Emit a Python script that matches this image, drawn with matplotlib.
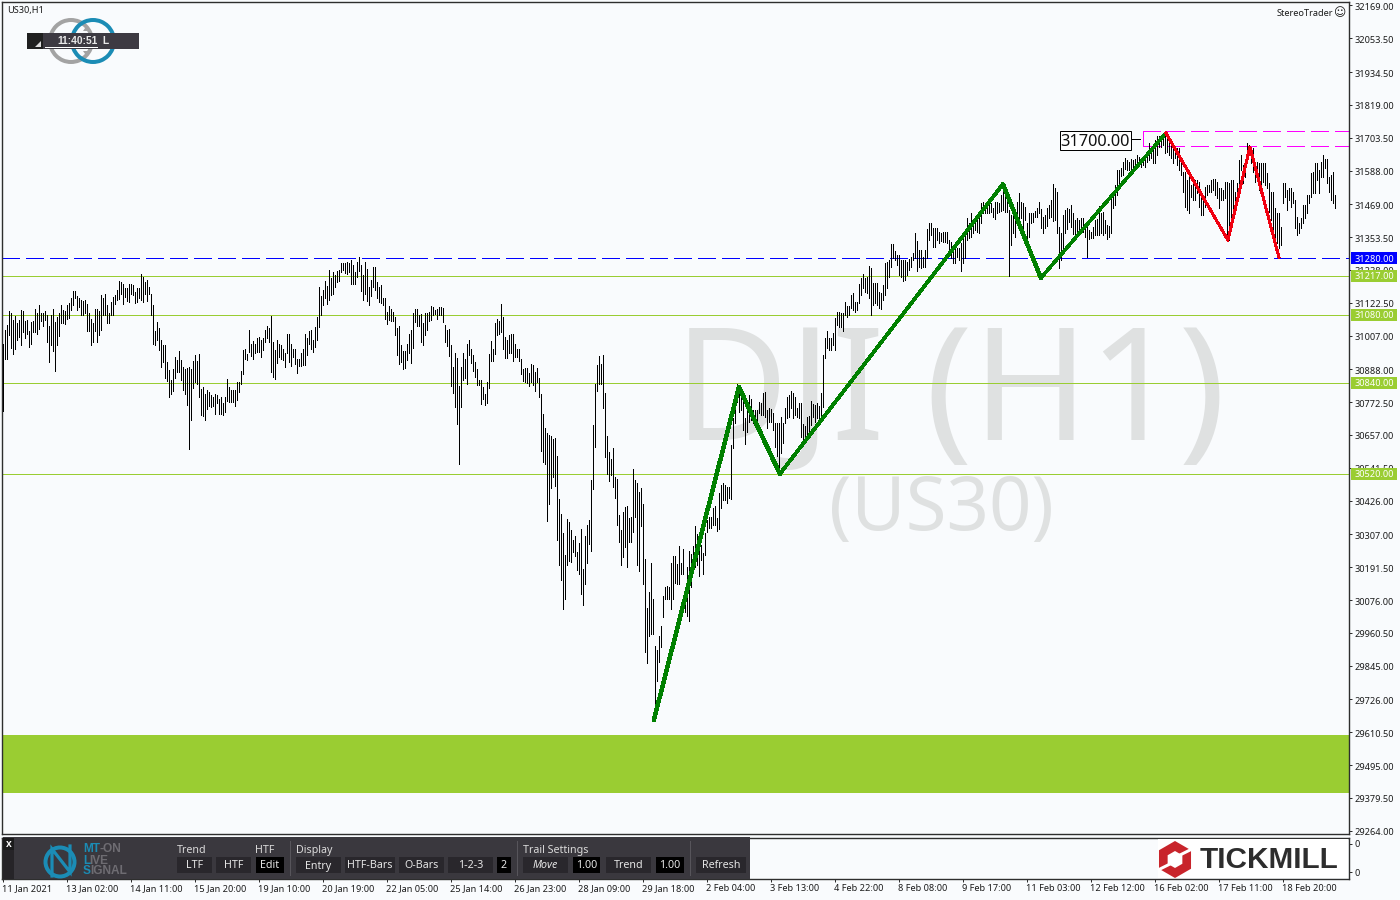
import matplotlib
matplotlib.use("Agg")
import matplotlib.pyplot as plt
from matplotlib.patches import Rectangle, Polygon, Arc, Circle
from matplotlib.transforms import ScaledTranslation
import numpy as np

plt.rcParams['font.family'] = ['Noto Sans', 'DejaVu Sans']
plt.rcParams['lines.scale_dashes'] = False

highs = [
30979,31026,31044,31093,31088,31061,31077,31050,31061,31097,31093,31058,31061,31022,31054,31058,31102,31088,31114,31088,31085,31093,31079,31040,31081,31100,31055,31073,31088,31114,31097,31093,
31114,31122,31138,31163,31163,31146,31140,31132,31129,31132,31118,31085,31067,31050,31100,31100,31093,31149,31138,31152,31114,31085,31126,31144,31149,31169,31199,31194,31187,31173,31173,31187,
31187,31185,31161,31173,31173,31223,31214,31196,31202,31179,31155,31114,31022,31055,31035,30991,30973,30973,30914,30885,30852,30891,30930,30920,30952,30920,30897,30891,30894,30897,30891,30917,
30940,30917,30941,30820,30826,30803,30817,30809,30797,30791,30800,30797,30785,30791,30768,30791,30853,30826,30815,30815,30817,30844,30844,30881,30956,30961,30941,31026,30979,30988,30977,31000,
31003,30991,30997,31026,31040,31035,31077,30985,30956,30993,30979,30975,30961,30944,31014,31014,30977,30961,30958,30926,30926,30947,30959,31014,30997,31022,31028,30991,31038,31073,31179,31147,
31169,31199,31182,31238,31208,31232,31220,31235,31238,31263,31261,31261,31267,31263,
31273,31255,31232,31267,31282,31255,31220,31267,31243,31179,31202,31249,31249,31194,31179,31185,31138,31140,31091,31111,31102,31091,31073,31035,31040,30973,30952,30952,30977,31014,31026,31085,
31102,31100,31079,31082,31052,31085,31088,31091,31111,31108,31097,31100,31108,31106,31105,31044,31026,31030,30973,30897,30947,30928,30829,30897,30947,30926,30977,30991,30958,30938,30914,30891,
30852,30850,30826,30803,30842,30941,30987,30961,31052,31067,31058,31118,31073,31003,30991,31008,31012,31014,30979,30961,30961,30926,30891,30893,30893,30876,30906,30903,30879,30893,30856,30803,
30732,30683,30665,30656,30652,30644,30648,30582,30430,30380,30313,30236,30362,30350,30321,30286,30303,30245,30278,30327,30184,30300,30339,30359,30497,30691,30838,30903,30934,30906,30938,30806,
30652,30597,30571,30612,30509,30501,30374,30321,30386,30403,30406,30365,30368,30536,30497,30489,30456,30471,30415,30219,30048,30106,30207,30080,29913,29900,29951,29983,30092,30121,30125,30121,
30207,30231,30231,30204,30265,30206,30256,30110,30192,30250,30239,30268,30335,30309,30309,
30270,30241,30311,30358,30367,30370,30399,30407,30364,30452,30481,30487,30481,30475,30475,30622,30716,30792,30837,30804,30815,30810,30716,30780,30798,30784,30745,30745,30745,30774,30768,30804,
30807,30745,30751,30747,30733,30698,30698,30698,30722,30698,30751,30792,30798,30812,30804,30792,30751,30771,30771,30695,30689,30719,30724,30777,30766,30763,30771,30759,
30804,30939,30997,31024,30997,30997,31015,31068,31089,31089,31085,31085,31126,31111,31111,31150,31156,31126,31126,31189,31209,31223,31209,31214,31252,31244,31191,31191,31193,31162,31156,31185,
31261,31265,31273,31329,31329,31306,31291,31291,31273,31273,31273,31267,31275,31285,31297,31367,31340,31308,31308,31285,31308,31381,31402,31402,31385,31385,31385,31373,31367,31373,31373,31373,
31343,31338,31314,31314,31314,31314,31332,31355,31367,31422,31402,31437,31408,31420,31416,31426,31473,31478,31467,31461,31467,31473,31455,31478,31478,31473,31502,31531,31510,31484,31449,31431,
31431,31437,31478,31510,31478,31473,31461,31402,31437,31437,31437,31447,31455,31478,
31451,31426,31431,31457,31467,31484,31539,31525,31514,31390,31367,31431,31449,31455,31451,31467,31437,31414,31420,31414,31420,31420,31390,31396,31379,31373,31390,31414,31416,31463,31437,31443,
31414,31396,31393,31502,31514,31537,31590,31590,31596,31619,31631,31625,31619,31627,31625,31627,31643,31637,31625,31631,31627,31649,31684,31660,31678,31695,31710,31710,31713,31719,31721,31713,
31686,31678,31666,31666,31666,31666,31613,31584,31584,31555,31584,31537,31549,31555,31555,31549,31508,31490,31531,31537,31537,31555,31557,31557,31549,31525,31525,31519,31549,31549,31543,31555,
31555,31514,31543,31625,31643,31607,31619,31684,31678,31660,31666,31619,31619,31613,31613,31613,31613,31578,31543,31514,31514,31455,31437,31437,31390,31543,31545,31519,31525,31525,31514,31484,
31426,31402,31420,31467,31467,31502,31502,31578,31582,31613,31613,31590,31619,31643,31627,31627,31566,31572,31584,31502,
]

lows = [
30742,30926,30924,31008,30964,30941,30959,30991,31003,30973,31020,30997,31014,30967,30979,31018,31020,31014,31030,31059,31040,31061,30985,30914,30973,30953,30883,30973,31005,31050,31050,31047,
31067,31070,31097,31114,31138,31097,31106,31079,31079,31085,31024,31022,30973,30985,31022,30983,31008,31026,31079,31079,31052,31052,31079,31079,31118,31132,31135,31155,31118,31144,31128,31126,
31155,31149,31122,31126,31138,31132,31126,31155,31128,31155,31079,30979,30973,30991,30956,30897,30914,30856,30847,30791,30800,30812,30858,30879,30879,30850,30815,30800,30762,30607,30709,30823,
30844,30838,30791,30726,30723,30709,30750,30758,30756,30758,30732,30768,30730,30732,30726,30738,30777,30773,30773,30773,30759,30779,30809,30838,30873,30926,30920,30950,30934,30923,30944,30950,
30950,30932,30956,30985,31000,30985,30879,30862,30853,30909,30932,30926,30920,30897,30944,30914,30900,30932,30906,30876,30899,30899,30903,30903,30938,30977,30961,30950,30967,30993,31038,31079,
31116,31138,31118,31132,31149,31155,31179,31194,31200,31232,31238,31226,31223,31232,
31190,31187,31190,31214,31235,31165,31132,31155,31128,31114,31147,31179,31167,31138,31126,31120,31114,31065,31047,31061,31059,31059,31008,30938,30906,30914,30891,30894,30920,30944,30909,30964,
31055,31040,31041,30985,30973,31008,31026,31059,31061,31079,31082,31065,31079,31079,31053,30985,30971,30934,30829,30805,30756,30697,30556,30756,30850,30856,30838,30938,30909,30883,30862,30832,
30832,30765,30785,30762,30770,30824,30918,30918,30941,31008,31011,31020,30959,30928,30928,30944,30947,30918,30930,30932,30917,30871,30846,30844,30840,30829,30842,30832,30812,30844,30791,30599,
30562,30556,30356,30413,30471,30509,30476,30286,30201,30145,30043,30080,30198,30213,30209,30245,30231,30182,30166,30098,30057,30131,30206,30274,30247,30466,30615,30812,30838,30838,30752,30580,
30518,30494,30515,30474,30435,30339,30282,30201,30227,30262,30194,30280,30280,30315,30368,30198,30180,30336,30133,29892,29853,29951,29957,29957,29698,29792,29857,29910,30016,30080,30078,30078,
30043,30080,30137,30133,30133,30168,30168,30033,30021,30004,30121,30180,30192,30198,30159,
30217,30168,30235,30317,30331,30331,30340,30340,30320,30326,30399,30428,30428,30419,30434,30432,30610,30698,30774,30739,30745,30675,30625,30669,30702,30710,30698,30704,30704,30733,30727,30727,
30722,30683,30704,30704,30675,30616,30583,30516,30593,30628,30698,30716,30722,30751,30716,30727,30722,30716,30651,30642,30642,30651,30657,30692,30722,30704,30716,30698,
30728,30757,30927,30962,30956,30956,30974,30956,31044,31038,31038,31024,31080,31074,31080,31103,31097,31091,31097,31121,31150,31173,31162,31156,31138,31080,31115,31121,31115,31103,31101,31132,
31150,31173,31214,31250,31279,31273,31255,31220,31214,31200,31203,31220,31238,31250,31273,31279,31236,31250,31244,31247,31250,31279,31343,31361,31320,31320,31343,31334,31340,31338,31338,31332,
31297,31279,31261,31261,31285,31273,31236,31264,31279,31343,31349,31355,31367,31379,31373,31369,31402,31437,31437,31437,31440,31443,31426,31416,31437,31443,31446,31449,31443,31443,31217,31326,
31367,31355,31420,31379,31420,31343,31414,31338,31355,31402,31408,31426,31426,31437,
31385,31367,31385,31393,31420,31426,31410,31414,31367,31244,31273,31297,31367,31381,31408,31390,31365,31349,31361,31361,31367,31373,31355,31285,31346,31349,31349,31361,31361,31361,31367,31361,
31367,31346,31355,31367,31455,31467,31502,31543,31569,31572,31592,31590,31590,31590,31596,31596,31607,31607,31602,31607,31602,31619,31625,31631,31613,31613,31643,31672,31672,31678,31649,31654,
31643,31631,31613,31631,31607,31590,31572,31514,31458,31449,31440,31496,31484,31484,31508,31461,31431,31431,31461,31502,31514,31514,31519,31502,31490,31455,31484,31484,31490,31349,31344,31390,
31437,31449,31484,31531,31590,31543,31566,31613,31649,31613,31584,31549,31566,31519,31514,31549,31537,31525,31443,31414,31355,31314,31332,31314,31326,31473,31496,31449,31484,31461,31473,31385,
31361,31367,31385,31402,31420,31437,31473,31496,31508,31508,31555,31508,31566,31566,31596,31543,31514,31484,31473,31457,
]

price_ticks = [32169.0,32053.5,31934.5,31819.0,31703.5,31588.0,31469.0,31353.5,31238.0,31122.5,31007.0,30888.0,30772.5,30657.0,30541.5,30426.0,30307.0,30191.5,30076.0,29960.5,29845.0,29726.0,29610.5,29495.0,29379.5,29264.0]
date_labels = ["11 Jan 2021","13 Jan 02:00","14 Jan 11:00","15 Jan 20:00","19 Jan 10:00","20 Jan 19:00","22 Jan 05:00","25 Jan 14:00","26 Jan 23:00","28 Jan 09:00","29 Jan 18:00","2 Feb 04:00","3 Feb 13:00","4 Feb 22:00","8 Feb 08:00","9 Feb 17:00","11 Feb 03:00","12 Feb 12:00","16 Feb 02:00","17 Feb 11:00","18 Feb 20:00"]
date_step = 32

green_levels = [31217, 31080, 30840, 30520]
blue_level = 31280
zone_top, zone_bottom = 31727, 31674
zone_start = 570
demand_top, demand_bottom = 29601, 29397
green_idx = [325.3, 367.8, 388.3, 499.8, 518.8, 581.3]
green_px = [29654, 30826, 30520, 31540, 31210, 31720]
green_w = [3.4, 3.4, 2.7, 3.3, 2.5]
red_idx = [581.3, 612.3, 623.3, 637.8]
red_px = [31720, 31343, 31671, 31283]

W, H = 1400, 900
BG = '#F9FBFD'
FRAME = '#2E2E2E'
YG = '#9ACD32'
px = 0.72

fig = plt.figure(figsize=(14, 9), dpi=100, facecolor=BG)

def axes_px(x0, y0, x1, y1, **kw):
    return fig.add_axes([x0/W, 1-y1/H, (x1-x0)/W, (y1-y0)/H], **kw)

XLIM = (-0.65, 672.85)
ax = axes_px(2, 2, 1349, 834, facecolor=BG)
ax.set_xlim(*XLIM)
ax.set_ylim(31280-576*3.52, 31280+256*3.52)

ov = fig.add_axes([0, 0, 1, 1], zorder=10)
ov.set_xlim(0, W); ov.set_ylim(H, 0); ov.axis('off'); ov.patch.set_alpha(0)

# watermark
WM = '#DFE1E1'
ax.text(674, 440, "DJI (H1)", transform=ov.transData, fontsize=113, color=WM, va='baseline', ha='left', zorder=0, clip_on=False, family='Noto Sans')
ax.text(829, 530, "(US30)", transform=ov.transData, fontsize=53.5, color=WM, va='baseline', ha='left', zorder=0, clip_on=False, family='Noto Sans')

ax.axhspan(demand_bottom, demand_top, color=YG, lw=0, zorder=1)

for lv in green_levels:
    ax.axhline(lv, color=YG, lw=1*px, zorder=2, antialiased=False)
ax.axhline(blue_level, color='#0000FF', lw=1*px, ls=(0, (18*px, 6*px)), zorder=2, antialiased=False)
for lv in (zone_top, zone_bottom):
    ax.plot([zone_start, XLIM[1]], [lv, lv], color='#FF00FF', lw=1*px, ls=(0, (18*px, 6*px)), zorder=2, antialiased=False)
ax.plot([zone_start, zone_start], [zone_bottom, zone_top], color='#FF00FF', lw=1*px, zorder=2, antialiased=False)

idx = np.arange(len(highs))
ax.vlines(idx, np.array(lows), np.array(highs), color='black', lw=1*px, zorder=3, antialiased=False)

for k in range(len(green_idx)-1):
    ax.plot(green_idx[k:k+2], green_px[k:k+2], color='#008000', lw=green_w[k]*px, zorder=4, solid_capstyle='round', antialiased=False)
ax.plot(red_idx, red_px, color='#F00010', lw=2.0*px, zorder=4, solid_joinstyle='round', antialiased=False)

for s in ax.spines.values():
    s.set_color(FRAME); s.set_linewidth(1.4*px)
ax.set_xticks([])
ax.yaxis.tick_right()
ax.set_yticks(price_ticks)
ax.set_yticklabels([f"{p:.2f}" for p in price_ticks], fontsize=6.6, color='#1a1a1a')
ax.tick_params(axis='y', length=3*px, width=1*px, pad=1.6, color=FRAME)
down = ScaledTranslation(0, -1/100, fig.dpi_scale_trans)
for lab in ax.get_yticklabels():
    lab.set_transform(lab.get_transform() + down)

tr = ax.get_yaxis_transform()
tags = [(blue_level, '#0000FF')] + [(lv, YG) for lv in green_levels]
for lv, c in tags:
    ax.add_patch(Rectangle((1+2/1347, lv-20), 46/1347, 40, transform=tr, facecolor=c, edgecolor='none', clip_on=False, zorder=20))
    ax.text(1+25/1347, lv, f"{lv:.2f}", transform=tr, color='white', fontsize=6.6, ha='center', va='center_baseline', clip_on=False, zorder=21)

ax2 = axes_px(2, 838, 1349, 879, facecolor=BG)
ax2.set_xlim(*XLIM); ax2.set_ylim(0, 1)
for s in ax2.spines.values():
    s.set_color(FRAME); s.set_linewidth(1.4*px)
ax2.yaxis.tick_right()
ax2.set_yticks([0.16, 0.86]); ax2.set_yticklabels(['0', '0'], fontsize=6.6, color='#1a1a1a')
ax2.tick_params(axis='y', length=3*px, width=1*px, pad=1.6, color=FRAME)
xt = np.arange(len(date_labels))*date_step
ax2.set_xticks(xt)
ax2.set_xticklabels(date_labels, fontsize=6.6, color='#1a1a1a', ha='left')
ax2.tick_params(axis='x', length=3*px, width=1*px, pad=1.6, color=FRAME)
shift = ScaledTranslation(-1/100, 0, fig.dpi_scale_trans)
for lab in ax2.get_xticklabels():
    lab.set_transform(lab.get_transform() + shift)

def t(x, y, s, size=6.6, color='#1a1a1a', ha='left', **kw):
    ov.text(x, y, s, fontsize=size, color=color, ha=ha, va='center', **kw)
def r(x0, y0, x1, y1, c, z=1, **kw):
    ov.add_patch(Rectangle((x0, y0), x1-x0, y1-y0, facecolor=c, edgecolor='none', zorder=z, **kw))

t(7, 10.5, "US30,H1", 6.6)
t(1277, 13, "StereoTrader", 6.6)
t(1333, 12.5, "\u263A", 8.5, family='DejaVu Sans')

for cx, c in ((71, '#A3A3A3'), (93, '#1B8CB5')):
    ov.add_patch(Arc((cx, 41), 42, 42, lw=4*px, color=c, zorder=1))
ov.add_patch(Polygon([[83, 31], [90, 31], [86.5, 26]], facecolor='#A3A3A3', edgecolor='none', zorder=1))
ov.add_patch(Polygon([[83, 51], [90, 51], [86.5, 56]], facecolor='#A3A3A3', edgecolor='none', zorder=1))
r(27, 33, 139, 49, '#3D3A42', 2)
r(27, 33, 43, 49, '#202020', 3)
ov.add_patch(Polygon([[35, 47], [41, 47], [41, 41]], facecolor='#DDDDDD', edgecolor='none', zorder=4))
ov.text(57, 40.5, "11:40:51", color='#E8E8E8', fontsize=7.4, weight='bold', family='Liberation Sans', ha='left', va='center', zorder=5)
ov.text(102, 40.5, "L", color='#E8E8E8', fontsize=7.4, weight='bold', family='Liberation Sans', ha='left', va='center', zorder=5)
ov.plot([45, 97], [46.5, 46.5], color='white', lw=1*px, zorder=5)

ov.plot([1130, 1140], [139, 139], color='black', lw=1*px)
ov.text(1094.5, 141.5, "31700.00", fontsize=11.8, color='#111111', ha='center', va='center', zorder=6)
ov.add_patch(Rectangle((1059.5, 130.5), 71, 19, facecolor='white', edgecolor='black', lw=1*px, zorder=5))

DARK = '#3A383E'
BTN = '#29272C'
r(3, 837, 750, 879, DARK, 1)
r(3, 838, 14, 879, '#262428', 2)
r(3, 838, 14, 850, '#1B1B1B', 3)
ov.text(8.5, 844, "x", color='white', fontsize=7.5, weight='bold', family='Liberation Sans', ha='center', va='center', zorder=4)

ov.add_patch(Circle((60, 862), 14.5, fill=False, edgecolor='#1B8CB5', lw=4*px, zorder=3))
ov.plot([52, 52, 70, 70], [876, 849, 872, 846], color='#1B8CB5', lw=3.2*px, zorder=4, solid_joinstyle='miter')
for y, a, b, xb in ((849.5, "MT", "-ON", 99), (860.5, "L", "IVE", 89), (871.5, "S", "IGNAL", 90)):
    ov.text(83, y, a, color='#1B8CB5', fontsize=8.6, weight='bold', family='Liberation Sans', va='center', zorder=4)
    ov.text(xb, y, b, color='#6E6C72', fontsize=8.6, weight='bold', family='Liberation Sans', va='center', zorder=4)

for x, s in ((177, "Trend"), (255, "HTF"), (296, "Display"), (523, "Trail Settings")):
    ov.text(x, 850.5, s, color='#DADADA', fontsize=7.7, va='center', zorder=4)
buttons = [(177, 212, "LTF", 0), (216, 251, "HTF", 0), (256, 284, "Edit", 1), (296, 341, "Entry", 0),
           (345, 395, "HTF-Bars", 0), (399, 444, "O-Bars", 0), (448, 493, "1-2-3", 0), (497, 511, "2", 1),
           (523, 568, "Move", 0), (573, 600, "1.00", 1), (606, 651, "Trend", 0), (656, 684, "1.00", 1),
           (696, 746, "Refresh", 0)]
for x0, x1, s, black in buttons:
    r(x0, 857, x1, 873, '#000000' if black else BTN, 3)
    ov.text((x0+x1)/2, 866, s, color='#E6E6E6', fontsize=7.7, ha='center', va='center', zorder=4,
            style='italic' if s == "Move" else 'normal')
for x in (290, 517, 690):
    ov.plot([x, x], [841, 875], color='#57555B', lw=1*px, zorder=3)

r(1158, 839, 1348, 878, 'white', 2)
cx, cy, R = 1175, 859.5, 18.5
hexa = [[cx + R*np.sin(a), cy - R*np.cos(a)] for a in np.arange(6)*np.pi/3]
ov.add_patch(Polygon(hexa, facecolor='#C8242B', edgecolor='none', zorder=3))
Ri = 8.5
inner = [[cx + Ri*np.sin(a), cy - Ri*np.cos(a)] for a in np.arange(6)*np.pi/3]
ov.add_patch(Polygon(inner, facecolor='white', edgecolor='none', zorder=4))
ov.plot([cx+6, cx+16], [cy-5, cy-10], color='white', lw=3*px, zorder=4)
ov.plot([cx-6, cx-16], [cy+5, cy+10], color='white', lw=3*px, zorder=4)
ov.text(1200, 859.5, "TICKMILL", fontsize=21.4, weight='bold', color='#2D2D2D', family='Liberation Sans', va='center', zorder=4)

fig.savefig('out.png', dpi=100, facecolor=BG)
